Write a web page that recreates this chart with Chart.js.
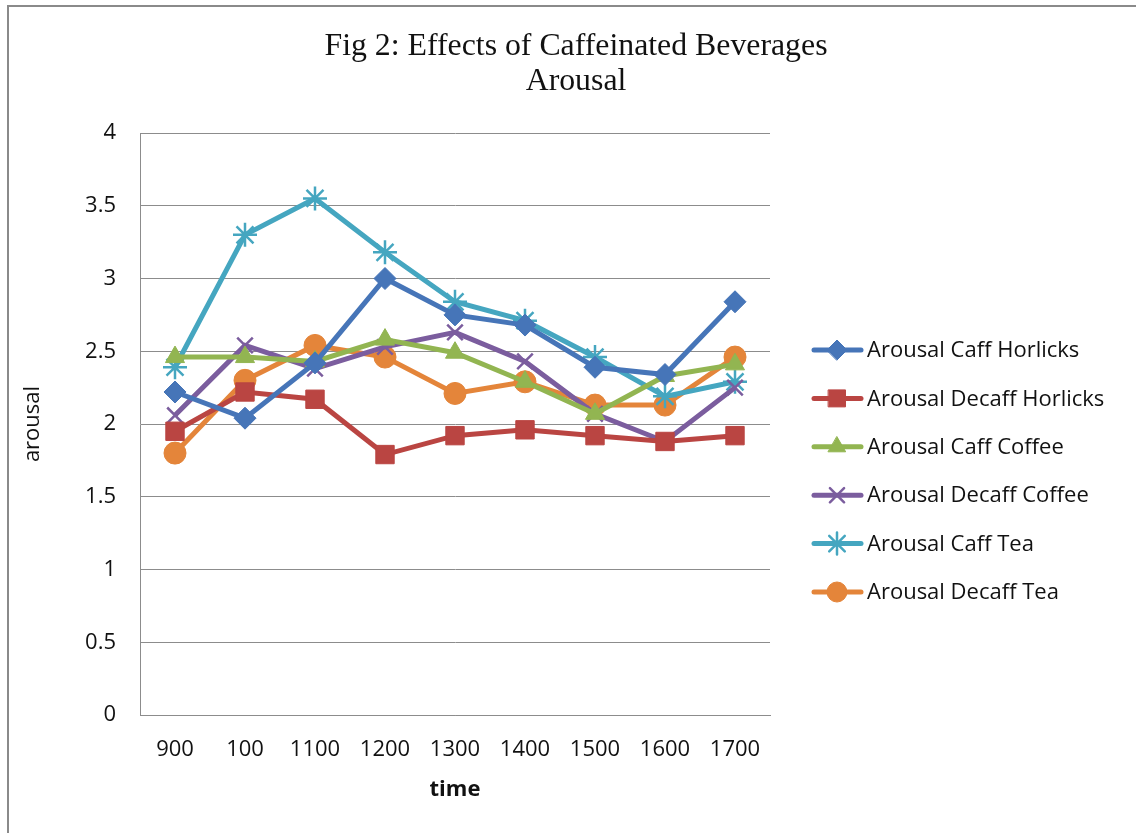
<!DOCTYPE html>
<html>
<head>
<meta charset="utf-8">
<script src="https://cdn.jsdelivr.net/npm/chart.js@4"></script>
<style>
  html, body { margin: 0; padding: 0; background: #fff; }
  #wrap { width: 1136px; height: 833px; }
</style>
</head>
<body>
<div id="wrap"><canvas id="chart"></canvas></div>
<script>
const times = ['900', '100', '1100', '1200', '1300', '1400', '1500', '1600', '1700'];

const caffHorlicks   = [2.22, 2.04, 2.42, 3.00, 2.75, 2.68, 2.39, 2.34, 2.84];
const decaffHorlicks = [1.95, 2.22, 2.17, 1.79, 1.92, 1.96, 1.92, 1.88, 1.92];
const caffCoffee     = [2.46, 2.46, 2.43, 2.58, 2.49, 2.29, 2.07, 2.33, 2.41];
const decaffCoffee   = [2.06, 2.54, 2.38, 2.53, 2.63, 2.43, 2.07, 1.88, 2.25];
const caffTea        = [2.39, 3.30, 3.55, 3.18, 2.84, 2.71, 2.46, 2.19, 2.29];
const decaffTea      = [1.80, 2.30, 2.54, 2.46, 2.21, 2.29, 2.13, 2.13, 2.46];

const seriesNames = ['Arousal Caff Horlicks', 'Arousal Decaff Horlicks', 'Arousal Caff Coffee',
                     'Arousal Decaff Coffee', 'Arousal Caff Tea', 'Arousal Decaff Tea'];
const seriesData = [caffHorlicks, decaffHorlicks, caffCoffee, decaffCoffee, caffTea, decaffTea];
const colors = ['#4675B8', '#BA4542', '#92B551', '#7B5D9E', '#45A6C0', '#E4853A'];
const markers = ['rectRot', 'rect', 'triangle', 'crossRot', 'star', 'circle'];
const markerSize = [11, 13, 11, 11, 12, 11];

const FONT = '"Open Sans", "Liberation Sans", sans-serif';

const datasets = seriesData.map((d, i) => ({
  label: seriesNames[i],
  data: d,
  borderColor: colors[i],
  backgroundColor: colors[i],
  borderWidth: 5,
  pointStyle: markers[i],
  pointRadius: markerSize[i],
  pointHoverRadius: markerSize[i],
  pointBorderWidth: (markers[i] === 'crossRot' || markers[i] === 'star') ? 2.5 : 1,
  tension: 0
}));

// white page, outer frame, title and legend
const decor = {
  id: 'decor',
  beforeDraw(chart) {
    const ctx = chart.ctx;
    ctx.save();
    ctx.fillStyle = '#fff';
    ctx.fillRect(0, 0, chart.width, chart.height);
    ctx.strokeStyle = '#8a8a8a';
    ctx.lineWidth = 2;
    ctx.strokeRect(8, 6, 3000, 3000);
    ctx.restore();
  },
  afterDraw(chart) {
    const ctx = chart.ctx;
    ctx.save();
    ctx.fillStyle = '#111';
    ctx.textAlign = 'center';
    ctx.textBaseline = 'middle';
    ctx.font = '32px "Liberation Serif", "DejaVu Serif", serif';
    const lines = [['Fig 2: Effects of Caffeinated Beverages', 47], ['Arousal', 82]];
    const sx = 503 / ctx.measureText(lines[0][0]).width;
    lines.forEach(([t, y]) => {
      ctx.save();
      ctx.translate(576, y);
      ctx.scale(sx, 1);
      ctx.fillText(t, 0, 0);
      ctx.restore();
    });

    // legend
    chart.data.datasets.forEach((ds, i) => {
      const y = 350 + i * 48.4;
      ctx.strokeStyle = ds.borderColor;
      ctx.lineWidth = 5;
      ctx.lineCap = 'round';
      ctx.beginPath();
      ctx.moveTo(814, y);
      ctx.lineTo(861, y);
      ctx.stroke();
      ctx.fillStyle = ds.borderColor;
      ctx.lineWidth = ds.pointBorderWidth;
      Chart.helpers.drawPoint(ctx, {
        pointStyle: ds.pointStyle,
        radius: ds.pointRadius - 1,
        rotation: 0,
        borderWidth: ds.pointBorderWidth
      }, 837, y);
      ctx.fillStyle = '#111';
      ctx.textAlign = 'left';
      ctx.textBaseline = 'middle';
      ctx.font = '22px ' + FONT;
      ctx.fillText(ds.label, 867, y + 1);
    });
    ctx.restore();
  }
};

new Chart(document.getElementById('chart'), {
  type: 'line',
  data: { labels: times, datasets: datasets },
  plugins: [decor],
  options: {
    responsive: true,
    maintainAspectRatio: false,
    animation: false,
    layout: { padding: { left: 12, top: 133, right: 366, bottom: 0 } },
    plugins: {
      legend: { display: false },
      title: { display: false },
      tooltip: { enabled: false }
    },
    scales: {
      x: {
        offset: true,
        grid: { display: false, drawTicks: false },
        border: { display: true, color: '#8c8c8c', width: 1 },
        ticks: { color: '#111', font: { family: FONT, size: 22 }, padding: 22, maxRotation: 0, autoSkip: false },
        title: { display: true, text: 'time', color: '#111', font: { family: FONT, size: 22, weight: 'bold' }, padding: { top: 4, bottom: 30 } },
        afterFit: s => { s.height = 118; }
      },
      y: {
        min: 0,
        max: 4,
        ticks: {
          stepSize: 0.5, color: '#111', font: { family: FONT, size: 22 }, padding: 24,
          callback: v => String(Number(v))
        },
        grid: { color: '#8c8c8c', lineWidth: 1, drawTicks: false },
        border: { display: true, color: '#8c8c8c', width: 1 },
        title: { display: true, text: 'arousal', color: '#111', font: { family: FONT, size: 22 }, padding: { top: 8, bottom: 0 } },
        afterFit: s => { s.width = 128; }
      }
    }
  }
});
</script>
</body>
</html>
